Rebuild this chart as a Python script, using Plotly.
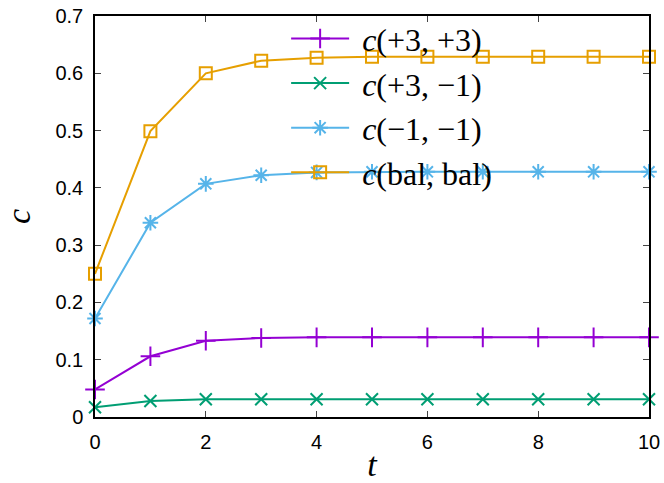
import plotly.graph_objects as go

# time steps
t = [0, 1, 2, 3, 4, 5, 6, 7, 8, 9, 10]

# concentration for each pairing
c_p3_p3 = [0.048, 0.106, 0.133, 0.138, 0.139, 0.139, 0.139, 0.139, 0.139, 0.139, 0.139]
c_p3_m1 = [0.017, 0.028, 0.031, 0.031, 0.031, 0.031, 0.031, 0.031, 0.031, 0.031, 0.031]
c_m1_m1 = [0.172, 0.339, 0.407, 0.422, 0.427, 0.428, 0.428, 0.428, 0.428, 0.428, 0.428]
c_bal_bal = [0.250, 0.499, 0.600, 0.622, 0.627, 0.629, 0.629, 0.629, 0.629, 0.629, 0.629]

x_ticks = [0, 2, 4, 6, 8, 10]
y_ticks = [0, 0.1, 0.2, 0.3, 0.4, 0.5, 0.6, 0.7]
y_tick_labels = ['0', '0.1', '0.2', '0.3', '0.4', '0.5', '0.6', '0.7']

series = [
    ('\u00a0<i>c</i>(+3, +3)', c_p3_p3, '#9400d3', 'cross-thin', 14),
    ('\u00a0<i>c</i>(+3, −1)', c_p3_m1, '#009e73', 'x-thin', 12),
    ('\u00a0<i>c</i>(−1, −1)', c_m1_m1, '#56b4e9', 'asterisk', 13),
    ('\u00a0<i>c</i>(bal, bal)', c_bal_bal, '#e69f00', 'square-open', 12),
]

fig = go.Figure()

for i, (name, values, color, symbol, size) in enumerate(series):
    fig.add_trace(go.Scatter(
        x=t,
        y=values,
        mode='lines+markers',
        name=name,
        legendgroup=str(i),
        line=dict(color=color, width=2),
        marker=dict(symbol=symbol, size=size, color=color,
                    line=dict(color=color, width=2)),
        cliponaxis=False,
    ))

axis_style = dict(
    showline=True,
    linecolor='black',
    linewidth=1.5,
    mirror='ticks',
    ticks='inside',
    ticklen=6,
    tickcolor='#444',
    showgrid=False,
    zeroline=False,
    automargin=False,
    ticklabelstandoff=6,
    tickfont=dict(family='Liberation Sans', size=20, color='black'),
)

fig.update_xaxes(
    range=[0, 10],
    tickvals=x_ticks,
    title=dict(text='<i>t</i>', font=dict(family='Liberation Serif', size=34, color='black'), standoff=0),
    **axis_style
)
fig.update_yaxes(
    range=[0, 0.7],
    tickvals=y_ticks,
    ticktext=y_tick_labels,
    title=dict(text='<i>c</i>', font=dict(family='Liberation Serif', size=34, color='black'), standoff=64),
    **axis_style
)

fig.update_layout(
    width=664,
    height=483,
    margin=dict(l=95, r=15, t=11, b=66),
    paper_bgcolor='white',
    plot_bgcolor='white',
    legend=dict(
        x=0.345,
        y=1.012,
        xanchor='left',
        yanchor='top',
        bgcolor='rgba(0,0,0,0)',
        font=dict(family='Liberation Serif', size=32, color='black'),
        traceorder='grouped',
        tracegroupgap=0,
        itemwidth=58,
    ),
)

# drop the browser's default page margin so the figure sits at the corner
fig.write_html("out.html", config={'displayModeBar': False},
               post_script="document.body.style.margin='0';")
